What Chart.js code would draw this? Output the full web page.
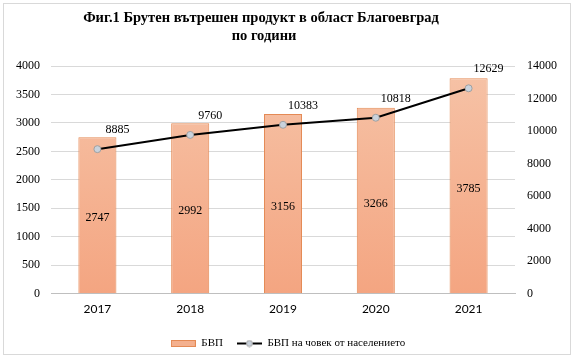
<!DOCTYPE html>
<html>
<head>
<meta charset="utf-8">
<script src="https://cdn.jsdelivr.net/npm/chart.js@4.4.0/dist/chart.umd.min.js"></script>
<style>
  html, body { margin: 0; padding: 0; background: #fff; }
  #wrap { width: 576px; height: 362px; position: relative; }
</style>
</head>
<body>
<div id="wrap"><canvas id="myChart" width="576" height="362"></canvas></div>
<script>
// values
var years = ["2017", "2018", "2019", "2020", "2021"];
var gdp = [2747, 2992, 3156, 3266, 3785];
var gdpPerCapita = [8885, 9760, 10383, 10818, 12629];
var leftTicks = [0, 500, 1000, 1500, 2000, 2500, 3000, 3500, 4000];
var rightTicks = [0, 2000, 4000, 6000, 8000, 10000, 12000, 14000];
var titleLines = ["Фиг.1 Брутен вътрешен продукт в област Благоевград", "по години"];
var seriesNames = ["БВП", "БВП на човек от населението"];

const serif = "'Liberation Serif', 'DejaVu Serif', serif";
const chart = document.getElementById('myChart');

// bar gradient, lighter at the top
function barFill(context) {
	const area = context.chart.chartArea;
	if (!area) return '#f4b08e';
	const g = context.chart.ctx.createLinearGradient(0, area.top, 0, area.bottom);
	g.addColorStop(0, '#f6c3a7');
	g.addColorStop(1, '#f4a581');
	return g;
}

// legend markers drawn on small canvases
function barMarker() {
	const c = document.createElement('canvas');
	c.width = 25; c.height = 7;
	const x = c.getContext('2d');
	x.fillStyle = '#f4b08e';
	x.fillRect(0.5, 0.5, 24, 6);
	x.strokeStyle = '#e48a55'; x.lineWidth = 1;
	x.strokeRect(0.5, 0.5, 24, 6);
	return c;
}
function lineMarker() {
	const c = document.createElement('canvas');
	c.width = 25; c.height = 8;
	const x = c.getContext('2d');
	x.strokeStyle = '#000'; x.lineWidth = 2;
	x.beginPath(); x.moveTo(0, 4); x.lineTo(25, 4); x.stroke();
	x.fillStyle = '#c9d2dc'; x.strokeStyle = '#a0a0a0'; x.lineWidth = 1;
	x.beginPath(); x.arc(12.5, 4, 3, 0, Math.PI * 2); x.fill(); x.stroke();
	return c;
}

const extras = {
	id: 'extras',
	beforeDraw(c) {
		const ctx = c.ctx;
		ctx.save();
		ctx.fillStyle = '#fff';
		ctx.fillRect(0, 0, c.width, c.height);
		ctx.strokeStyle = '#d9d9d9';
		ctx.lineWidth = 1;
		ctx.strokeRect(3.5, 3.5, 567, 351);
		ctx.fillStyle = '#000';
		ctx.font = "bold 14.5px " + serif;
		ctx.textAlign = 'center';
		ctx.textBaseline = 'middle';
		ctx.fillText(titleLines[0], 261, 18);
		ctx.fillText(titleLines[1], 264, 36);
		ctx.restore();
	},
	afterDatasetsDraw(c) {
		const ctx = c.ctx;
		ctx.save();
		ctx.fillStyle = '#000';
		ctx.font = "12px " + serif;
		ctx.textAlign = 'center';
		ctx.textBaseline = 'middle';
		const bars = c.getDatasetMeta(1).data;
		bars.forEach((b, i) => {
			ctx.fillText(String(gdp[i]), b.x, (b.y + b.base) / 2 + 3);
		});
		const pts = c.getDatasetMeta(0).data;
		pts.forEach((p, i) => {
			ctx.fillText(String(gdpPerCapita[i]), p.x + 20, p.y - 19);
		});
		ctx.restore();
	}
};

new Chart(chart, {
	type: 'bar',
	data: {
		labels: years,
		datasets: [{
			type: 'line',
			label: seriesNames[1],
			data: gdpPerCapita,
			yAxisID: 'y2',
			borderColor: '#000',
			borderWidth: 2,
			pointRadius: 3.5,
			pointBackgroundColor: '#c9d2dc',
			pointBorderColor: '#a0a0a0',
			pointBorderWidth: 1,
			tension: 0,
			order: 0
		}, {
			type: 'bar',
			label: seriesNames[0],
			data: gdp,
			yAxisID: 'y',
			backgroundColor: barFill,
			borderColor: '#e48a55',
			borderWidth: 1,
			categoryPercentage: 1,
			barPercentage: 0.41,
			order: 1
		}]
	},
	options: {
		responsive: false,
		animation: false,
		layout: { padding: { top: 66, left: 0, right: 0, bottom: 3 } },
		scales: {
			x: {
				grid: { display: false, drawTicks: false },
				border: { color: '#bfbfbf', width: 1 },
				ticks: { color: '#000', font: { family: "Lato, 'Open Sans', sans-serif", size: 12 }, padding: 8 }
			},
			y: {
				position: 'left',
				min: 0, max: 4000,
				afterBuildTicks(a) { a.ticks = leftTicks.map(v => ({ value: v })); },
				afterFit(a) { a.width = 51; },
				grid: { color: '#d9d9d9', drawTicks: false },
				border: { display: false },
				ticks: { color: '#000', font: { family: serif, size: 12 }, padding: 11, callback: v => String(v) }
			},
			y2: {
				position: 'right',
				min: 0, max: 14000,
				afterBuildTicks(a) { a.ticks = rightTicks.map(v => ({ value: v })); },
				afterFit(a) { a.width = 61; },
				grid: { display: false, drawTicks: false },
				border: { display: false },
				ticks: { color: '#000', font: { family: serif, size: 12 }, padding: 12, callback: v => String(v) }
			}
		},
		plugins: {
			title: { display: false },
			tooltip: { enabled: false },
			legend: {
				position: 'bottom',
				labels: {
					color: '#000',
					font: { family: serif, size: 11 },
					usePointStyle: true,
					pointStyleWidth: 25,
					boxHeight: 8,
					padding: 14,
					generateLabels(c) {
						return [{
							text: seriesNames[0],
							pointStyle: barMarker(),
							datasetIndex: 1
						}, {
							text: seriesNames[1],
							pointStyle: lineMarker(),
							datasetIndex: 0
						}];
					}
				}
			}
		}
	},
	plugins: [extras]
});
</script>
</body>
</html>
